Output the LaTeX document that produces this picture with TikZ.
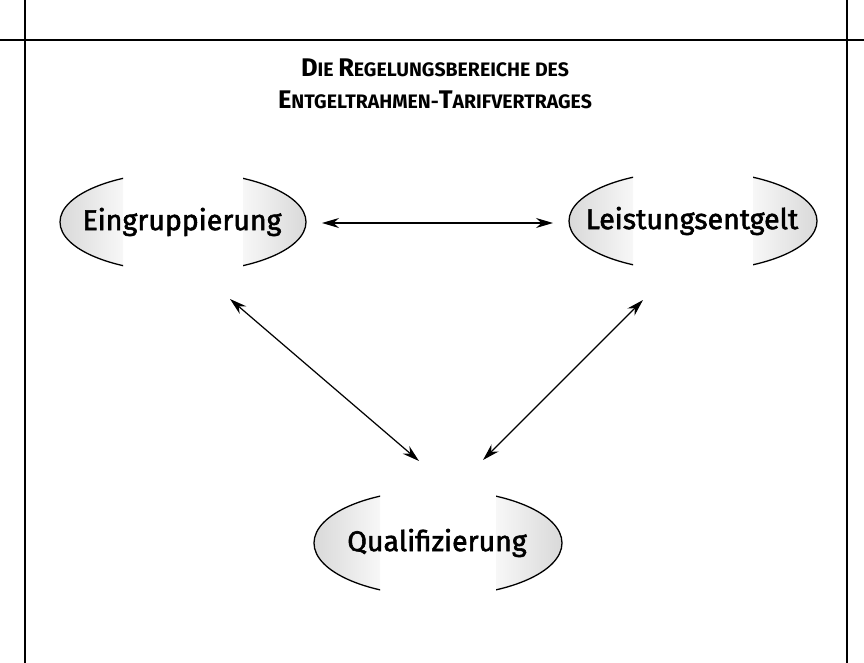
\documentclass[tikz,border=0pt]{standalone}
\usepackage{fontspec}
\setmainfont{Fira Sans}
\newfontfamily\labelfont[FakeBold=2]{Fira Sans}
\usetikzlibrary{arrows.meta,shapes.geometric}
\newcommand\ovalcaps[5]{%
  \begin{scope}
    \clip (#1-#3-4,#2-#4-4) rectangle (#1-#5,#2+#4+4);
    \begin{scope}
      \clip (#1,#2) ellipse[x radius=#3, y radius=#4];
      \shade[left color=gray!30, right color=gray!6] (#1-#3,#2-#4) rectangle (#1-#5,#2+#4);
    \end{scope}
    \draw[capline] (#1,#2) ellipse[x radius=#3, y radius=#4];
  \end{scope}
  \begin{scope}
    \clip (#1+#5,#2-#4-4) rectangle (#1+#3+4,#2+#4+4);
    \begin{scope}
      \clip (#1,#2) ellipse[x radius=#3, y radius=#4];
      \shade[left color=gray!6, right color=gray!30] (#1+#5,#2-#4) rectangle (#1+#3,#2+#4);
    \end{scope}
    \draw[capline] (#1,#2) ellipse[x radius=#3, y radius=#4];
  \end{scope}}
\newcommand\bigc[1]{{\fontsize{25.5}{28}\selectfont #1}}
\begin{document}
\begin{tikzpicture}[x=1pt,y=-1pt,
  capline/.style={line width=1.3pt, black},
  frameline/.style={line width=1.3pt, black},
  label/.style={font=\labelfont\fontsize{28.5}{32}\selectfont, inner sep=0pt, text=black},
  link/.style={line width=1.2pt, {Stealth[length=17pt,width=10pt]}-{Stealth[length=17pt,width=10pt]}},
  titletext/.style={font=\bfseries\fontsize{19.5}{22}\selectfont, align=center, inner sep=0pt}]
\useasboundingbox (0,0) rectangle (864,663);
% frame
\draw[frameline, line width=1.8pt] (0,40) -- (864,40);
\draw[frameline] (25,0) -- (25,663);
\draw[frameline] (847,0) -- (847,663);
% title
\node[titletext] (t1) at (435,68) {\bigc{D}IE \bigc{R}EGELUNGSBEREICHE DES};
\node[titletext] (t2) at (435,100) {\bigc{E}NTGELTRAHMEN-\bigc{T}ARIFVERTRAGES};
% ovals
\ovalcaps{183}{222}{123}{50}{60}
\ovalcaps{693}{221}{124}{50}{60}
\ovalcaps{438}{543}{124}{53}{58}
\node[label] (E) at (182,222) {Eingruppierung};
\node[label] (L) at (692,221) {Leistungsentgelt};
\node[label] (Q) at (437,543) {Qualifizierung};
% arrow ends
\coordinate (e1) at (322,223);
\coordinate (l1) at (553,223);
\coordinate (e2) at (230,299);
\coordinate (q1) at (419,461);
\coordinate (l2) at (643,300);
\coordinate (q2) at (483,460);
\draw[link] (e1) -- (l1);
\draw[link] (e2) -- (q1);
\draw[link] (l2) -- (q2);
\end{tikzpicture}
\end{document}
